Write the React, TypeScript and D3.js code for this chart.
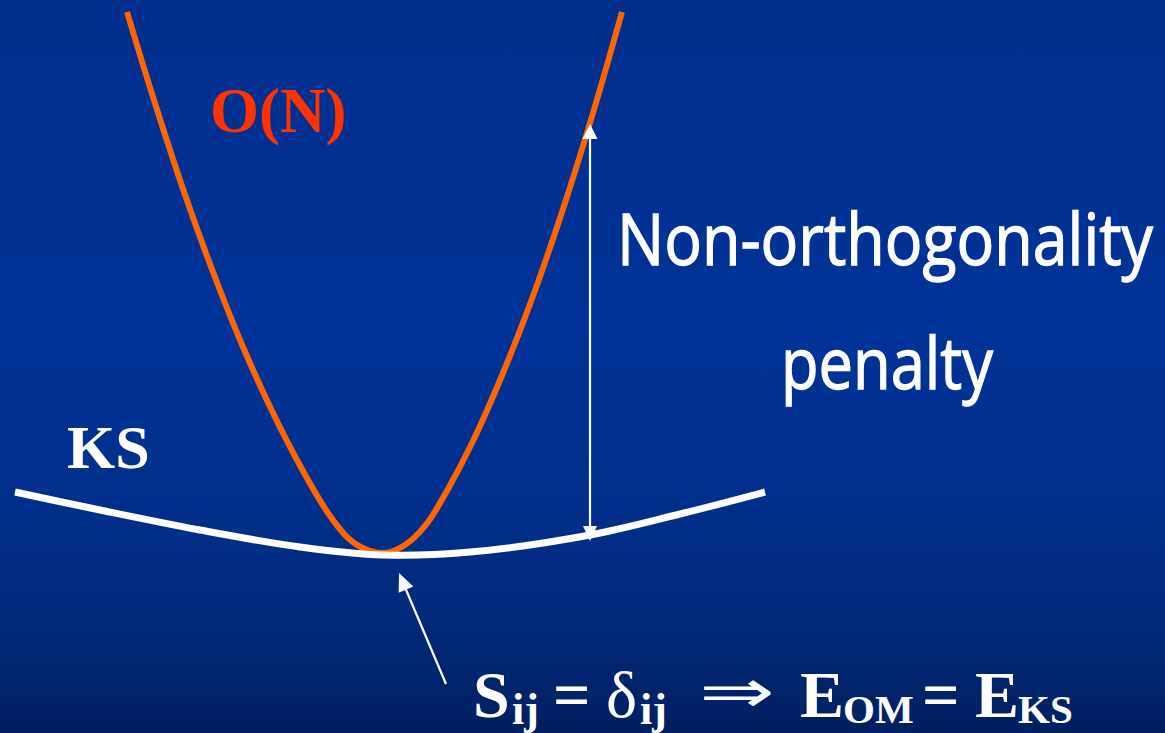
import React from "react";
import * as d3 from "d3";

const W = 1165;
const H = 733;

// O(N) functional: configuration coordinate q vs. energy E
const onQ = [-5.12, -4.6, -4.0, -3.4, -2.8, -2.2, -1.6, -1.1, -0.7, -0.36, 0, 0.28, 0.56, 0.9, 1.3, 1.8, 2.4, 3.0, 3.6, 4.2, 4.78];
const onE = [10.82, 9.12, 7.28, 5.62, 4.12, 2.8, 1.64, 0.8, 0.3, 0.08, 0, 0.07, 0.25, 0.62, 1.28, 2.24, 3.6, 5.14, 6.88, 8.8, 10.82];

// Kohn-Sham functional
const ksQ = [-7.36, -5.66, -3.66, -1.66, 0, 1.74, 4.14, 5.94, 7.64];
const ksE = [1.22, 0.86, 0.46, 0.12, -0.04, 0.02, 0.36, 0.78, 1.22];

// Non-orthogonality penalty arrow: position and the two energies it spans
const penaltyQ = 4.14;
const penaltyTop = 8.58;
const penaltyBottom = 0.24;

// Pointer to the common minimum (tail -> tip)
const pointerQ = [1.26, 0.32];
const pointerE = [-2.62, -0.4];

const x = d3.scaleLinear().domain([-8, 8]).range([-17, 783]);
const y = d3.scaleLinear().domain([0, 11]).range([553, 3]);

type P = [number, number];

const line = d3
  .line<P>()
  .x((d) => x(d[0]))
  .y((d) => y(d[1]))
  .curve(d3.curveCatmullRom.alpha(0.5));

const onPts: P[] = onQ.map((q, i) => [q, onE[i]]);
const ksPts: P[] = ksQ.map((q, i) => [q, ksE[i]]);

function arrowHead(tip: P, from: P, len: number, half: number): string {
  const dx = tip[0] - from[0];
  const dy = tip[1] - from[1];
  const n = Math.hypot(dx, dy);
  const ux = dx / n;
  const uy = dy / n;
  const bx = tip[0] - ux * len;
  const by = tip[1] - uy * len;
  const px = -uy * half;
  const py = ux * half;
  return `M${tip[0]},${tip[1]}L${bx + px},${by + py}L${bx - px},${by - py}Z`;
}

const serif = "'Times New Roman', 'Liberation Serif', Times, serif";
const hand = "'Comic Sans MS', 'Open Sans', sans-serif";

export default function App() {
  const ax = x(penaltyQ);
  const aTop: P = [ax, y(penaltyTop)];
  const aBot: P = [ax, y(penaltyBottom)];
  const pTail: P = [x(pointerQ[0]), y(pointerE[0])];
  const pTip: P = [x(pointerQ[1]), y(pointerE[1])];

  return (
    <svg
      width={W}
      height={H}
      viewBox={`0 0 ${W} ${H}`}
      style={{ position: "absolute", left: 0, top: 0, display: "block" }}
    >
      <defs>
        <linearGradient id="bg" x1="0" y1="0" x2="0" y2="1">
          <stop offset="0" stopColor="#002e8c" />
          <stop offset="0.45" stopColor="#003399" />
          <stop offset="0.68" stopColor="#002f8c" />
          <stop offset="0.85" stopColor="#00297a" />
          <stop offset="1" stopColor="#001f60" />
        </linearGradient>
      </defs>
      <rect x={0} y={0} width={W} height={H} fill="url(#bg)" />

      {/* O(N) energy curve */}
      <path d={line(onPts) ?? ""} fill="none" stroke="#ff6600" strokeWidth={6} strokeLinecap="butt" />
      {/* KS energy curve */}
      <path d={line(ksPts) ?? ""} fill="none" stroke="#ffffff" strokeWidth={7} strokeLinecap="butt" />

      {/* penalty arrow */}
      <line x1={aTop[0]} y1={aTop[1] + 12} x2={aBot[0]} y2={aBot[1] - 12} stroke="#ffffff" strokeWidth={2.2} />
      <path d={arrowHead(aTop, aBot, 15, 7.5)} fill="#ffffff" />
      <path d={arrowHead(aBot, aTop, 15, 7)} fill="#ffffff" />

      {/* pointer to the minimum */}
      <line x1={pTail[0]} y1={pTail[1]} x2={pTip[0] + 5} y2={pTip[1] + 12} stroke="#ffffff" strokeWidth={2.2} />
      <path d={arrowHead(pTip, pTail, 18, 8)} fill="#ffffff" />

      <text x={210} y={132} fontFamily={serif} fontWeight="bold" fontSize={63} fill="#ff3300">
        O(N)
      </text>
      <text x={67} y={468} fontFamily={serif} fontWeight="bold" fontSize={62} fill="#ffffff">
        KS
      </text>

      <g fill="#ffffff" stroke="#ffffff" strokeWidth={1.1} fontFamily={hand} fontSize={62}>
        <text transform="translate(617,265) scale(1,1.16)" textLength={536} lengthAdjust="spacingAndGlyphs">
          Non-orthogonality
        </text>
        <text transform="translate(781,389) scale(1,1.16)" textLength={212} lengthAdjust="spacingAndGlyphs">
          penalty
        </text>
      </g>

      {/* S_ij = δ_ij ⇒ E_OM = E_KS */}
      <g fill="#ffffff" fontFamily={serif}>
        <text x={473} y={717} fontSize={66} fontWeight="bold">S</text>
        <text x={512} y={724} fontSize={44} fontWeight="bold">ij</text>
        <text x={553} y={717} fontSize={66} fontWeight="bold">=</text>
        <text x={606} y={717} fontSize={66}>δ</text>
        <text x={640} y={724} fontSize={44} fontWeight="bold">ij</text>
        <text x={699} y={712} fontSize={60} fontFamily="'DejaVu Sans', sans-serif" textLength={76} lengthAdjust="spacingAndGlyphs">⇒</text>
        <text x={800} y={717} fontSize={66} fontWeight="bold">E</text>
        <text x={843} y={723} fontSize={41} fontWeight="bold">OM</text>
        <text x={922} y={717} fontSize={66} fontWeight="bold">=</text>
        <text x={975} y={717} fontSize={66} fontWeight="bold">E</text>
        <text x={1018} y={723} fontSize={41} fontWeight="bold">KS</text>
      </g>
    </svg>
  );
}
